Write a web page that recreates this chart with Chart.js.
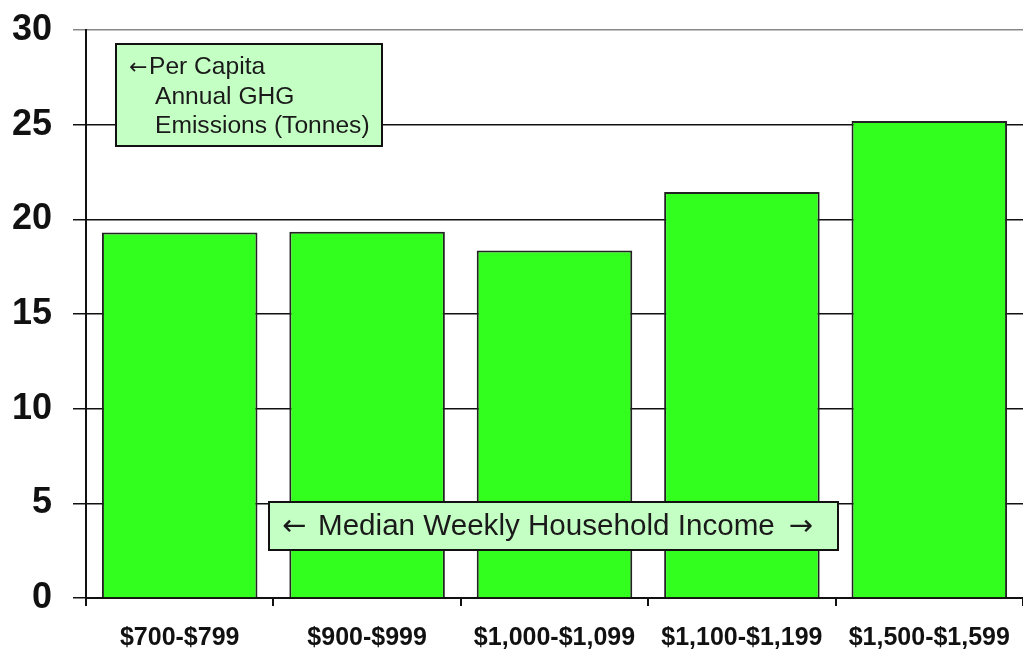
<!DOCTYPE html>
<html>
<head>
<meta charset="utf-8">
<script src="https://cdn.jsdelivr.net/npm/chart.js@4/dist/chart.umd.min.js"></script>
<style>
html,body{margin:0;padding:0;background:#fff;}
#wrap{width:1023px;height:653px;}
</style>
</head>
<body>
<div id="wrap"><canvas id="c" width="1023" height="653"></canvas></div>
<script>
const rangos=['$700-$799','$900-$999','$1,000-$1,099','$1,100-$1,199','$1,500-$1,599'];
const ghg=[19.3,19.35,18.35,21.45,25.2];
const yTicks=[0,5,10,15,20,25,30];

const notaY=['Per Capita','Annual GHG','Emissions (Tonnes)'];
const notaX='Median Weekly Household Income';

const FUENTE='"Liberation Sans", Arial, sans-serif';

/* CAJAS DE TEXTO */
const cajas={
id:'cajas',
afterDatasetsDraw(ch){
let c=ch.ctx;
c.save();
c.fillStyle='#c4ffc4';
c.strokeStyle='#111';
c.lineWidth=2;
c.fillRect(116,44,266,102);
c.strokeRect(116,44,266,102);
c.fillStyle='#1a1a1a';
c.textBaseline='middle';
c.font='22px "DejaVu Sans"';
c.fillText('\u2190',129,68);
c.font='24.6px '+FUENTE;
c.fillText(notaY[0],149,67);
c.fillText(notaY[1],155,97);
c.fillText(notaY[2],155,126);

c.fillStyle='#c4ffc4';
c.fillRect(269,502,569,48);
c.strokeRect(269,502,569,48);
c.fillStyle='#1a1a1a';
c.font='29px "DejaVu Sans"';
c.fillText('\u2190',282,527);
c.textAlign='right';
c.fillText('\u2192',813,527);
c.textAlign='left';
c.font='29.6px '+FUENTE;
c.fillText(notaX,318,527);
c.restore();
}
};

new Chart(document.getElementById('c'),{
type:'bar',
data:{
labels:rangos,
datasets:[{
data:ghg,
backgroundColor:'#33ff1f',
borderColor:'#222',
borderWidth:2,
categoryPercentage:1,
barPercentage:0.83
}]
},
options:{
responsive:false,
animation:false,
layout:{padding:{top:30,left:6,right:0,bottom:0}},
plugins:{legend:{display:false},tooltip:{enabled:false}},
scales:{
y:{
min:0,max:30,
afterBuildTicks:s=>{s.ticks=yTicks.map(v=>({value:v}));},
afterFit:s=>{s.width=80;s.paddingTop=0;s.paddingBottom=0;},
ticks:{
color:'#111',
font:{family:FUENTE,size:36,weight:'bold'},
padding:21
},
grid:{
color:ctx=>ctx.tick&&ctx.tick.value==30?'#888':'#111',
lineWidth:1.5,
tickLength:13
},
border:{color:'#111',width:2}
},
x:{
afterFit:s=>{s.height=55;s.paddingLeft=0;s.paddingRight=0;},
ticks:{
color:'#111',
font:{family:FUENTE,size:25,weight:'bold'},
padding:17,
maxRotation:0,
autoSkip:false
},
grid:{
drawOnChartArea:false,
color:'#111',
lineWidth:2,
tickLength:8
},
border:{color:'#111',width:2}
}
}
},
plugins:[cajas]
});
</script>
</body>
</html>
